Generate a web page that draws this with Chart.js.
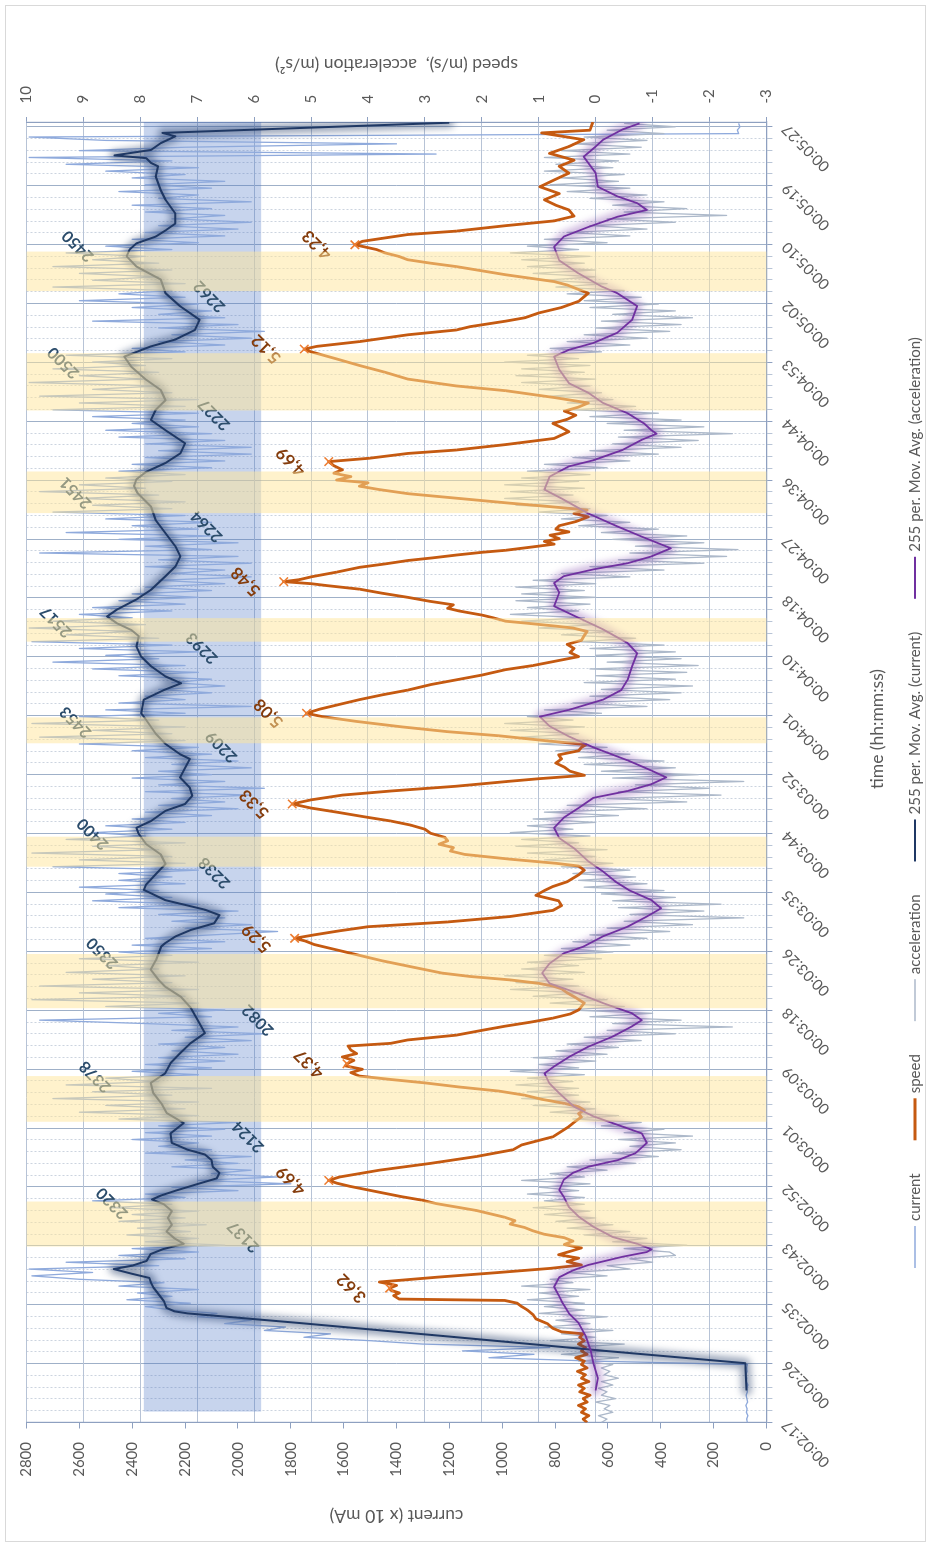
<!DOCTYPE html>
<html lang="en">
<head>
<meta charset="UTF-8">
<title>current, speed and acceleration</title>
<script src="https://cdn.jsdelivr.net/npm/chart.js"></script>
<style>
    html, body { margin: 0; padding: 0; overflow: hidden; background: #fff; }
    #page { position: relative; width: 931px; height: 1547px; overflow: hidden; }
    /* the chart is drawn landscape and turned a quarter to the left */
    #turn { position: absolute; left: 0; top: 0; width: 1547px; height: 931px;
            transform-origin: 0 0; transform: translateY(1547px) rotate(-90deg); }
</style>
</head>
<body>
<div id="page"><div id="turn"><canvas id="chart" width="1547" height="931"></canvas></div></div>
<script>
// time axis: one label every 190/22 s starting at 00:02:17 (x values are seconds after 00:02:17)
var tickLabels = ['00:02:17','00:02:26','00:02:35','00:02:43','00:02:52','00:03:01','00:03:09','00:03:18',
    '00:03:26','00:03:35','00:03:44','00:03:52','00:04:01','00:04:10','00:04:18','00:04:27','00:04:36',
    '00:04:44','00:04:53','00:05:02','00:05:10','00:05:19','00:05:27'];
var spanSeconds = 190;
var rawStep = 0.5;

// current (x 10 mA), one value every 0.5 s
var currentRaw = [
    72,75,70,76,73,78,71,74,77,72,75,70,76,74,78,73,75,72,
    650,1050,880,1150,820,1300,1500,1750,1650,1900,1820,2050,1950,2150,2080,2250,
    2350,2180,2420,2250,2380,2150,2450,2280,2600,2780,2550,2790,2300,2650,2200,2450,
    2150,2400,2050,2350,2150,2420,2180,2380,2120,2450,2200,2400,2150,2480,2250,2550,
    2200,2350,2000,2250,1800,2150,1850,2100,1950,2250,2000,2200,1950,2350,2100,2300,
    2150,2400,2100,2350,2050,2300,2000,2450,2150,2600,2200,2500,2150,2700,2250,2550,
    2100,2650,2300,2500,2150,2400,2100,2350,2050,2300,2000,2250,2050,2300,1950,2200,
    1900,2250,2000,2350,2750,2100,2300,2050,2500,2150,2780,2200,2600,2150,2750,2250,
    2550,2200,2650,2300,2500,2150,2600,2250,2450,2100,2400,2050,2350,2100,1850,2200,
    1950,2250,2050,2300,2000,2450,2150,2550,2250,2500,2300,2600,2200,2450,2250,2450,
    2150,2700,2200,2600,2250,2780,2300,2550,2200,2650,2350,2550,2250,2500,2200,2400,
    2100,2350,2000,2300,2050,2250,1950,2350,1900,2300,2050,2400,2100,2300,1950,2250,
    2000,2350,2100,2400,2150,2600,2200,2750,2250,2550,2200,2780,2300,2600,2200,2500,
    1950,2450,2200,2350,2100,2300,2050,2250,2100,2450,2150,2550,2200,2700,2300,2500,
    2150,2600,2250,2780,2300,2650,2400,2790,2350,2700,2400,2600,2250,2550,2200,2450,
    2150,2400,2100,2350,2050,2300,1950,2250,2050,2350,1950,2300,2000,2750,2100,2350,
    2000,2450,2100,2650,2150,2400,2100,2500,2200,2700,2250,2550,2200,2600,2300,2750,
    2350,2600,2250,2500,2200,2450,2100,2400,2050,2350,1950,2300,1950,2350,2050,2450,
    2100,2500,2150,2400,2200,2550,2150,2700,2200,2600,2150,2750,2250,2550,2300,2790,
    2350,2600,2300,2700,2350,2550,2250,2650,2200,2400,2050,2300,1950,2250,1900,2300,
    2000,2550,2050,2300,2100,2400,2150,2600,2200,2450,2250,2700,2200,2550,2300,2600,
    2250,2700,2300,2550,2350,2650,2250,2500,2150,2400,2050,2350,2000,2300,1950,2250,
    2050,2350,2100,2400,1950,2300,2150,2450,2100,2350,2050,2400,2200,2500,2150,2650,
    2250,2790,1250,2600,2200,1400,2500,2790,105,110,100,105
];

// acceleration (m/s2), one value every 0.5 s
var accelRaw = [
    -0.1,-0.2,-0.05,-0.3,-0.15,-0.25,0,-0.35,-0.1,-0.2,-0.05,-0.3,-0.1,-0.4,-0.15,-0.25,-0.1,-0.3,
    0.3,-0.4,0.6,-0.2,0.5,-0.5,0.8,0,0.6,-0.3,0.9,0.1,0.7,-0.2,1,0.2,
    0.9,0.2,1.2,0.3,1,0.1,1.3,0.4,0.8,-0.2,0.5,-0.6,-0.2,-1,-0.6,-1.4,
    -1.3,-0.5,-1.6,-0.3,-0.9,0.2,-0.6,0.5,-0.3,0.7,0,0.9,0.1,1.1,0.2,0.9,
    0.2,1.2,0.3,1,0.1,1.3,0.2,0.8,-0.2,0.5,-0.7,0.1,-1.1,-0.3,-1.5,-0.6,
    -1.4,-0.4,-1.7,-0.5,-1.2,-0.1,-0.8,0.4,-0.4,0.8,0,1.1,0.1,1.3,0.3,1.2,
    0.3,1.4,0.4,1.2,0.2,1.5,0.3,1,0,1.1,-0.2,0.7,-0.4,0.5,-0.8,0.2,
    -1.4,-0.2,-2.4,-0.3,-1.5,0.1,-1,0.5,-0.5,0.8,-0.2,1.1,0.2,1.5,0.3,1.4,
    0.4,1.6,0.2,1.3,0.3,1.2,-0.1,0.9,-0.3,0.6,-0.6,0.4,-0.9,0.1,-1.3,-0.2,
    -1.7,-0.5,-2.6,-0.6,-1.9,-0.4,-2.2,-0.3,-1.4,-0.1,-1.2,0.2,-0.9,0.3,-0.7,0.4,
    -0.6,0.6,-0.3,0.9,0,1.2,-0.2,1.4,0.3,1.3,0.1,1.5,0.4,1.2,0,1.1,
    -0.4,0.9,-0.9,0.5,-1.6,-0.2,-2.2,-0.4,-2,-0.7,-2.6,-0.3,-1.8,-0.1,-1.4,0.2,
    -1.2,0.3,-0.6,0.7,-0.2,1,0.1,1.3,0.3,1.5,0.2,1.6,0.4,1.2,-0.1,0.9,
    -0.9,0.4,-1.3,0.1,-1.5,-0.1,-1.7,0.2,-1.4,0,-1.6,0.1,-1.8,-0.2,-1.5,0,
    -1.4,0.1,-1.2,0.3,-0.7,0.6,-0.3,1,0,1.3,0.2,1.5,0.3,1.2,0.1,1.4,
    0,1.3,0.2,1.4,0,1.1,-0.6,0.6,-1.2,0.1,-1.9,-0.4,-2.3,-0.6,-2.5,-0.7,
    -1.9,-0.3,-1.6,-0.1,-1.1,0.3,-0.6,0.6,-0.2,1,0.1,1.4,0.3,1.6,0.4,1.5,
    0.2,1.6,0.3,1.3,0.1,1.2,-0.2,0.9,-0.6,0.4,-1.1,0.1,-1.5,-0.3,-1.8,-0.4,
    -2.4,-0.5,-1.9,-0.2,-1.5,0.1,-1.1,0.4,-0.7,0.5,-0.3,0.8,-0.1,1,0.1,1.3,
    0,1.4,0.2,1.3,0.1,1.6,0.3,1.2,-0.1,0.8,-0.6,0.5,-0.9,0.2,-1.3,0,
    -1.5,-0.1,-1.7,-0.3,-1.4,0.1,-1.1,0.2,-0.8,0.5,-0.5,0.7,-0.2,0.9,0,1.1,
    0,1.2,0.2,1.3,0.1,1.5,0.3,1.2,-0.2,0.9,-0.6,0.5,-0.9,0.1,-1.4,-0.2,
    -2.3,-0.5,-1.6,-0.3,-1.2,0.1,-0.9,0.5,-0.6,0.8,-0.4,0.6,-0.5,0.9,-0.3,0.7,
    -0.4,0.9,-0.6,0.6,-0.8,0.4,-0.9,0.2,-1.2,-0.2,-1.4,-0.5
];

// speed (m/s) as [seconds, value]
var speedPoints = [
    [0,0.15],[0.5,0.22],[1,0.12],[1.5,0.25],[2,0.18],[2.5,0.3],[3,0.15],[3.5,0.22],[4,0.1],[4.5,0.28],[5,0.2],
    [5.5,0.3],[6,0.12],[6.5,0.25],[7,0.18],[7.5,0.32],[8,0.15],[8.5,0.25],[9,0.2],[9.5,0.35],[10,0.15],[10.5,0.25],
    [11,0.18],[11.5,0.3],[12,0.2],[12.5,0.28],[13,0.22],[13.3,0.6],[13.8,0.75],[14.5,0.85],[15.2,1.05],[15.8,1.1],
    [16.5,1.2],[17,1.3],[17.5,1.38],[17.9,1.6],[18.1,3.45],[18.6,3.55],[19,3.45],[19.4,3.6],[19.7,3.62],[20.1,3.5],
    [20.6,3.8],[21.3,2.8],[22,1.7],[22.6,0.8],[23.1,0.25],[23.6,0.5],[24.1,0.3],[24.6,0.65],[25.1,0.45],[25.6,0.25],
    [26.1,0.55],[26.6,0.4],[27.1,0.55],[27.6,0.9],[28.1,1.1],[28.6,1.25],[29.1,1.5],[29.6,1.42],[30.1,1.6],[30.6,1.85],
    [31.1,2.1],[31.6,2.45],[32.1,2.8],[32.6,3.05],[33.1,3.4],[33.6,3.7],[34.1,4],[34.6,4.3],[35.1,4.55],[35.5,4.69],
    [36,4.5],[37,3.8],[38,2.9],[39,2.1],[40,1.45],[40.7,1.3],[41.9,0.75],[43.4,0.47],[44.2,0.35],[44.8,0.25],[45.3,0.3],
    [45.8,0.2],[46.3,0.3],[46.8,0.55],[47.4,0.95],[48,1.25],[48.6,1.7],[49.2,2.4],[49.8,3],[50.3,3.6],[50.8,4.15],
    [51.3,4.3],[51.8,4.1],[52.3,4.4],[52.6,4.37],[53.1,4.25],[53.6,4.45],[54.1,4.2],[54.6,4.3],[55.2,4.35],[55.6,3.6],
    [56.1,3.3],[56.8,2.45],[57.5,2],[58.1,1.6],[58.7,1.15],[59.3,0.75],[59.9,0.45],[60.5,0.3],[61.5,0.2],[62.3,0.35],
    [63,0.5],[63.6,0.6],[64,0.75],[64.4,1],[64.9,1.5],[65.4,2.2],[65.9,2.7],[66.5,3.05],[67.1,3.4],[67.7,3.75],
    [68.3,4.05],[68.9,4.35],[69.5,4.65],[70.1,4.95],[70.6,5.1],[71,5.29],[71.5,4.95],[72.1,4.5],[72.7,4],[73.4,2.6],
    [74.2,1.5],[75.1,0.75],[75.8,0.6],[76.5,0.65],[77.3,1.05],[78,0.9],[78.6,0.75],[79.3,0.5],[80.3,0.3],[81,0.2],
    [81.6,0.3],[82,0.7],[82.6,1.5],[83.3,2.3],[83.8,2.55],[84.3,2.5],[84.8,2.75],[85.3,2.6],[85.8,2.65],[86.4,2.9],
    [87,3],[87.6,3.25],[88.2,3.6],[88.8,4.05],[89.5,4.55],[90.1,5],[90.7,5.33],[91.3,5],[92,4.45],[92.6,3.6],[93.3,2.45],
    [94,1.55],[94.4,1],[94.9,0.2],[95.5,0.45],[96.1,0.55],[96.7,0.7],[97.3,0.6],[97.9,0.65],[98.5,0.3],[99,0.25],
    [99.4,0.17],[100,0.9],[100.7,1.7],[101.3,2.6],[102,3.4],[102.8,4.2],[103.5,4.8],[104,5.08],[104.6,4.85],[105.3,4.5],
    [106,4.15],[106.7,3.75],[107.4,3.3],[108.2,2.9],[108.9,2.45],[109.6,2],[110.4,1.58],[111,1.1],[111.6,0.73],
    [112.3,0.3],[112.9,0.45],[113.5,0.38],[114.1,0.5],[114.7,0.25],[115.4,0.2],[116,0.15],[116.5,0.4],[116.8,0.73],
    [117.2,1.2],[117.5,1.58],[118,1.8],[118.4,2],[119,2.4],[119.4,2.6],[119.9,2.5],[120.4,2.9],[121,3.3],[121.6,3.75],
    [122.2,4.15],[122.7,4.7],[123,5],[123.3,5.48],[123.6,5.2],[124,5],[124.7,4.55],[125.4,4.15],[125.9,3.7],[126.4,3.3],
    [126.8,2.85],[127.2,2.45],[127.6,2],[127.9,1.58],[128.4,1.1],[128.8,0.73],[129.2,0.9],[129.6,0.64],[130.1,0.8],
    [130.6,0.47],[131,0.7],[131.5,0.64],[132.1,0.35],[132.8,0.13],[133.3,0.38],[133.8,0.15],[134.3,0.8],[134.8,1.5],
    [135.5,2.4],[136.2,3.3],[136.8,3.8],[137.3,4.15],[137.8,4],[138.2,4.55],[138.7,4.3],[139.2,4.6],[139.7,4.45],
    [140.3,4.6],[140.9,4.69],[141.4,3.97],[142.1,3.3],[142.6,2.45],[143.4,1.58],[144.3,0.73],[145.3,0.47],[145.9,0.6],
    [146.5,0.75],[147.1,0.5],[147.7,0.35],[148.3,0.55],[148.9,0.3],[149.5,0.13],[150.3,0.73],[151.3,1.58],[152,2.45],
    [153,3.3],[154,3.7],[155,4.15],[156,4.57],[157,5],[157.4,5.12],[157.8,4.9],[158.5,4.15],[159.5,3.3],[160.2,2.45],
    [160.7,2.2],[161.5,1.58],[162,1.24],[162.7,1],[163.5,0.6],[164.4,0.3],[165.1,0.2],[165.6,0.13],[166.3,0.35],
    [166.8,0.5],[167.3,0.73],[168.3,1.58],[169.5,2.45],[170,2.9],[170.5,3.3],[171,3.46],[171.5,3.7],[172,3.85],
    [172.7,4.23],[173.2,4.1],[173.7,3.7],[174.2,3.3],[174.7,2.45],[175.5,1.58],[176.2,0.73],[176.9,0.38],[177.8,0.47],
    [178.5,0.7],[179.3,0.9],[180.2,0.64],[181.2,0.98],[182.2,0.73],[183.2,0.47],[184.2,0.64],[185.1,0.38],[186.1,0.81],
    [187.1,0.47],[188.1,0.21],[189.1,0.95],[189.5,0.1],[190.7,0.05]
];

// 255 per. moving average of current, as [seconds, value]
var maCurrentPoints = [
    [4.7,75],[8.7,80],[10.6,640],[12.6,1200],[14.6,1770],[16,2190],[16.3,2240],[16.8,2270],[17.8,2280],[18.8,2300],
    [19.8,2320],[20.6,2330],[21.2,2335],[21.8,2400],[22.5,2470],[23,2400],[23.7,2345],[24.7,2330],[25.4,2285],
    [26.2,2205],[27,2240],[28,2270],[29,2250],[30,2265],[31,2250],[32,2280],[32.7,2325],[33.3,2290],[34,2235],
    [35,2150],[35.8,2080],[36.6,2070],[37.5,2095],[38.5,2100],[39.3,2125],[40,2190],[41,2250],[42.4,2255],[43.9,2205],
    [45.4,2270],[46.8,2290],[48.3,2320],[49.8,2330],[51.2,2275],[52.7,2255],[54.1,2220],[55.6,2180],[57.1,2125],
    [58.5,2145],[60.9,2180],[62.4,2215],[63.9,2275],[64.9,2300],[66.4,2330],[67.8,2310],[69.8,2290],[70.3,2275],
    [71.3,2235],[72.2,2180],[73.2,2090],[74.4,2070],[75.2,2125],[76.6,2275],[78.1,2356],[78.9,2347],[80.4,2311],
    [81.9,2274],[83.3,2292],[84.8,2347],[86.3,2375],[87.2,2384],[88.2,2329],[89.7,2274],[90.7,2200],[91.9,2173],
    [93.1,2182],[94.6,2219],[96,2200],[97.3,2182],[98,2219],[99.5,2274],[101,2311],[103,2347],[104,2366],[106,2356],
    [107.4,2280],[108.4,2215],[109.4,2274],[110.9,2329],[112.3,2366],[113.8,2384],[115.3,2375],[116.2,2403],
    [117.2,2458],[118.2,2495],[119.2,2458],[120.7,2384],[122.1,2329],[124.1,2274],[125.5,2237],[127,2218],[128.5,2237],
    [130.4,2274],[132.3,2311],[134.3,2329],[136.3,2380],[137.3,2393],[138.3,2384],[139.4,2347],[140.7,2274],
    [142.1,2218],[143.6,2200],[145.5,2274],[147,2329],[148.5,2311],[149.9,2274],[151.4,2292],[152.9,2347],[154.8,2403],
    [156.3,2430],[157.8,2329],[158.8,2237],[160.2,2163],[161.7,2145],[163.7,2219],[165.6,2274],[167.6,2292],
    [169.5,2384],[171,2421],[172,2410],[172.9,2384],[173.9,2311],[174.8,2274],[175.8,2237],[177.3,2237],[179.3,2274],
    [180.7,2292],[182.7,2311],[184.2,2302],[184.7,2329],[185.4,2347],[185.8,2467],[186.6,2329],[187.6,2292],
    [188.6,2237],[189.1,2285],[190.6,1200]
];

// 255 per. moving average of acceleration, as [seconds, value]
var maAccelPoints = [
    [4.7,0],[6.5,-0.04],[8.7,0.04],[10.6,0.09],[12.6,0.17],[14.6,0.3],[16,0.47],[17.5,0.58],[18.5,0.64],[19.9,0.73],
    [21.3,0.64],[22.3,0.4],[23.1,0.13],[24.3,-0.47],[25,-0.9],[25.4,-0.98],[26.2,-0.73],[27.2,-0.3],[28.7,0.04],
    [30.2,0.3],[31.6,0.47],[33.1,0.56],[34.1,0.64],[35.6,0.56],[36.6,0.4],[37.5,0.13],[38.5,-0.4],[39.5,-0.7],[41,-0.9],
    [42.4,-0.81],[43.4,-0.47],[44.9,0.04],[46.3,0.38],[48.3,0.64],[49.7,0.81],[51.2,0.9],[52.2,0.73],[53.6,0.47],
    [55.1,0.13],[56.6,-0.3],[58.1,-0.64],[59,-0.81],[60,-0.64],[61.5,-0.13],[62.9,0.3],[64.4,0.81],[65.9,0.94],
    [67.3,0.81],[68.8,0.56],[69.8,0.21],[71.3,-0.13],[72.7,-0.56],[74.2,-0.9],[75.4,-1.15],[76.6,-0.98],[78,-0.6],
    [79.3,-0.35],[80.8,-0.13],[82.3,0.13],[84.2,0.38],[85.7,0.64],[87.2,0.73],[88.7,0.56],[90.1,0.3],[91.6,0.04],
    [92.6,-0.56],[93.6,-0.98],[94.6,-1.24],[95.6,-0.98],[97.1,-0.56],[99,0.04],[100.6,0.47],[102.1,0.81],[103.5,0.98],
    [104.5,0.47],[106,-0.13],[107.4,-0.45],[108.9,-0.56],[110.9,-0.64],[112.8,-0.73],[114.3,-0.56],[116.3,-0.13],
    [118.3,0.38],[119.7,0.73],[121.7,0.64],[123.1,0.73],[124.1,0.56],[125.1,0.04],[126,-0.56],[127,-0.98],[128.2,-1.32],
    [129.9,-0.81],[131.4,-0.38],[133.3,0.13],[135.5,0.6],[136.8,0.9],[138.7,0.81],[140.2,0.47],[141.1,0.04],
    [142.6,-0.47],[144.1,-0.81],[145,-1.07],[145.5,-0.98],[146.5,-0.85],[148,-0.56],[149.5,-0.13],[151,0.13],
    [152.4,0.47],[154.4,0.64],[156.3,0.73],[157.3,0.47],[158.3,0.04],[159.8,-0.38],[161.7,-0.64],[163.7,-0.73],
    [165.6,-0.38],[166.6,-0.1],[168.5,0.3],[170.4,0.64],[172.4,0.73],[173.9,0.56],[175.3,0.13],[176.8,-0.38],
    [177.8,-0.9],[178.8,-0.73],[179.8,-0.38],[181.2,-0.04],[183.2,0],[184.7,0.13],[185.6,0.21],[187.1,0],[188.1,-0.13],
    [189.6,-0.47],[190.5,-0.77]
];

// speed peaks marked with a cross and a label
var peakTimes  = [19.7, 35.5, 52.6, 71, 90.7, 104, 123.3, 140.9, 157.4, 172.7];
var peakSpeeds = [3.62, 4.69, 4.37, 5.29, 5.33, 5.08, 5.48, 4.69, 5.12, 4.23];

// current notes: value shown, and where it sits (seconds, current units)
var noteValues = [2137, 2320, 2124, 2378, 2082, 2350, 2238, 2400, 2209, 2453, 2293, 2517, 2264, 2451, 2227, 2500, 2262, 2450];
var noteTimes  = [27.25, 32.15, 41.9, 50.7, 59, 68.8, 80.6, 86.3, 99.1, 102.7, 113.55, 117.4, 131.4, 136.3, 147.8, 155.4, 165.1, 172.5];
var noteLevels = [1979, 2476, 1961, 2540, 1924, 2513, 2089, 2549, 2062, 2614, 2136, 2688, 2118, 2614, 2090, 2660, 2108, 2605];

// accelerating phases (seconds) and the usual current range
var accelPhases = [[25.8, 32.4], [44.1, 50.8], [60.75, 68.7], [81.5, 85.9], [99.6, 103.4],
                   [114.5, 117.95], [133.35, 139.45], [148.4, 156.8], [165.9, 171.7]];
var currentBand = [1912, 2356];
var bandFrom = 1.6;

var FONT = 'Lato, "Open Sans", sans-serif';
var GREY = '#595959';
Chart.defaults.font.family = FONT;
Chart.defaults.color = GREY;

function seq(values) {
    return values.map(function (v, i) { return { x: i * rawStep, y: v }; });
}
function pairs(points) {
    return points.map(function (p) { return { x: p[0], y: p[1] }; });
}
function tilted(c, text, x, y) {
    c.save();
    c.translate(x, y);
    c.rotate(-Math.PI / 4);
    c.fillText(text, 0, 0);
    c.restore();
}

var extras = {
    id: 'extras',
    beforeDraw: function (chart) {
        var c = chart.ctx;
        c.save();
        c.fillStyle = '#fff';
        c.fillRect(0, 0, chart.width, chart.height);
        c.strokeStyle = '#D9D9D9';
        c.lineWidth = 1;
        c.strokeRect(5.5, 5.5, chart.width - 11, chart.height - 11);
        c.restore();
    },
    beforeDatasetsDraw: function (chart) {
        var c = chart.ctx, a = chart.chartArea, x = chart.scales.x, y = chart.scales.yCur;
        var x0 = x.getPixelForValue(bandFrom);
        var y0 = y.getPixelForValue(currentBand[1]), y1 = y.getPixelForValue(currentBand[0]);
        c.save();
        c.fillStyle = 'rgba(68,114,196,0.3)';
        c.fillRect(x0, y0, a.right - x0, y1 - y0);
        c.restore();
    },
    beforeDatasetDraw: function (chart, args) {
        var ds = chart.data.datasets[args.index];
        if (!ds.glow) return;
        var c = chart.ctx, a = chart.chartArea, pts = args.meta.data;
        c.save();
        c.beginPath();
        c.rect(a.left, a.top, a.right - a.left, a.bottom - a.top);
        c.clip();
        c.filter = 'blur(3.5px)';
        c.strokeStyle = ds.glow;
        c.lineWidth = 10;
        c.lineJoin = 'round';
        c.lineCap = 'round';
        c.beginPath();
        pts.forEach(function (p, i) { if (i) c.lineTo(p.x, p.y); else c.moveTo(p.x, p.y); });
        c.stroke();
        c.restore();
    },
    afterDatasetsDraw: function (chart) {
        var c = chart.ctx, a = chart.chartArea, x = chart.scales.x, y = chart.scales.yCur;
        c.save();
        c.textAlign = 'center';
        c.textBaseline = 'middle';
        c.font = 'bold 16px ' + FONT;
        c.fillStyle = '#2B4C6B';
        noteValues.forEach(function (v, i) {
            tilted(c, String(v), x.getPixelForValue(noteTimes[i]), y.getPixelForValue(noteLevels[i]));
        });
        var peaks = chart.getDatasetMeta(5).data;
        c.font = 'bold 17px ' + FONT;
        c.fillStyle = '#843C0C';
        peaks.forEach(function (p, i) {
            tilted(c, peakSpeeds[i].toFixed(2).replace('.', ','), p.x, p.y - 38);
        });
        // accelerating phases lie over everything
        c.fillStyle = 'rgba(255,229,153,0.5)';
        accelPhases.forEach(function (ph) {
            var x0 = x.getPixelForValue(ph[0]), x1 = x.getPixelForValue(ph[1]);
            c.fillRect(x0, a.top, x1 - x0, a.bottom - a.top);
        });
        c.restore();
    },
    afterDraw: function (chart) {
        var c = chart.ctx, a = chart.chartArea;
        c.save();
        c.fillStyle = GREY;
        c.textAlign = 'center';
        c.textBaseline = 'middle';
        c.font = '17.5px ' + FONT;
        c.save();
        c.translate(1482, (a.top + a.bottom) / 2);
        c.rotate(-Math.PI / 2);
        c.fillText('speed (m/s),  acceleration (m/s\u00B2)', 0, 0);
        c.restore();
        c.fillText('time (hh:mm:ss)', 818, 877);
        // legend
        c.font = '15px ' + FONT;
        c.textAlign = 'left';
        var lx = 279, ly = 915;
        chart.data.datasets.forEach(function (ds) {
            if (ds.legend === false) return;
            c.strokeStyle = ds.borderColor;
            c.lineWidth = ds.borderWidth;
            c.beginPath();
            c.moveTo(lx, ly);
            c.lineTo(lx + 42, ly);
            c.stroke();
            lx += 47;
            c.fillText(ds.label, lx, ly);
            lx += c.measureText(ds.label).width + 33;
        });
        c.restore();
    }
};

new Chart(document.getElementById('chart').getContext('2d'), {
    type: 'line',
    data: {
        datasets: [
            { label: 'current', data: seq(currentRaw), yAxisID: 'yCur', borderColor: '#8FAADC', borderWidth: 1.3, order: 6 },
            { label: 'speed', data: pairs(speedPoints), yAxisID: 'ySpd', borderColor: '#C55A11', borderWidth: 2.8, order: 4 },
            { label: 'acceleration', data: seq(accelRaw), yAxisID: 'ySpd', borderColor: '#ADB9CA', borderWidth: 1.3, order: 5 },
            { label: '255 per. Mov. Avg. (current)', data: pairs(maCurrentPoints), yAxisID: 'yCur',
              borderColor: '#1F3864', borderWidth: 2, order: 2, glow: 'rgba(31,56,100,0.45)' },
            { label: '255 per. Mov. Avg. (acceleration)', data: pairs(maAccelPoints), yAxisID: 'ySpd',
              borderColor: '#7030A0', borderWidth: 1.8, order: 1, glow: 'rgba(112,48,160,0.35)' },
            { label: 'peaks', legend: false, data: peakTimes.map(function (t, i) { return { x: t, y: peakSpeeds[i] }; }),
              yAxisID: 'ySpd', showLine: false, pointStyle: 'crossRot', pointRadius: 6,
              pointBorderColor: '#ED7D31', pointBorderWidth: 1.6, borderColor: '#ED7D31', order: 0 }
        ]
    },
    options: {
        responsive: false,
        animation: false,
        events: [],
        layout: { padding: { left: 0, right: 0, top: 26.5, bottom: 0 } },
        elements: { point: { radius: 0 }, line: { tension: 0, borderJoinStyle: 'round' } },
        plugins: { legend: { display: false }, tooltip: { enabled: false } },
        scales: {
            x: {
                type: 'linear', position: 'bottom', min: 0, max: 190.7,
                afterBuildTicks: function (s) {
                    var t = [];
                    for (var i = 0; i <= 110; i++) t.push({ value: i * spanSeconds / 110 });
                    s.ticks = t;
                },
                afterFit: function (s) { s.height = 931 - 766.4; s.paddingLeft = 0; s.paddingRight = 0; },
                ticks: {
                    autoSkip: false, minRotation: 45, maxRotation: 45, padding: 6,
                    font: { size: 15 }, color: GREY,
                    callback: function (v, i) { return i % 5 === 0 ? tickLabels[i / 5] : ''; }
                },
                grid: {
                    color: function (c) { return c.index % 5 === 0 ? '#9FB0C8' : '#CCD4DF'; },
                    tickColor: function (c) { return c.index % 5 === 0 ? '#8EA0C0' : '#B8C4D6'; },
                    lineWidth: 1, tickLength: 6
                },
                border: {
                    color: '#8EA0C0', width: 1.2,
                    dash: function (c) { return (c.type === 'tick' && c.index % 5) ? [2, 2] : []; }
                }
            },
            yCur: {
                type: 'linear', position: 'left', min: 0, max: 2800,
                afterFit: function (s) { s.width = 124.5; s.paddingTop = 0; s.paddingBottom = 0; },
                ticks: { stepSize: 200, padding: 13.5, font: { size: 15 }, color: GREY,
                         callback: function (v) { return String(v); } },
                grid: { drawOnChartArea: false, tickLength: 6, color: '#8EA0C0' },
                border: { color: '#8EA0C0', width: 1.2 },
                title: { display: true, text: 'current (x 10 mA)', font: { size: 17.5 }, color: GREY,
                         padding: { top: 21, bottom: 0 } }
            },
            ySpd: {
                type: 'linear', position: 'right', min: -3, max: 10,
                afterFit: function (s) { s.width = 122; s.paddingTop = 0; s.paddingBottom = 0; },
                ticks: { stepSize: 1, padding: 13.5, font: { size: 15 }, color: GREY,
                         callback: function (v) { return String(v); } },
                grid: { color: '#B7C3D6', tickColor: '#8EA0C0', tickLength: 5 },
                border: { color: '#8EA0C0', width: 1.2 }
            }
        }
    },
    plugins: [extras]
});
</script>
</body>
</html>
